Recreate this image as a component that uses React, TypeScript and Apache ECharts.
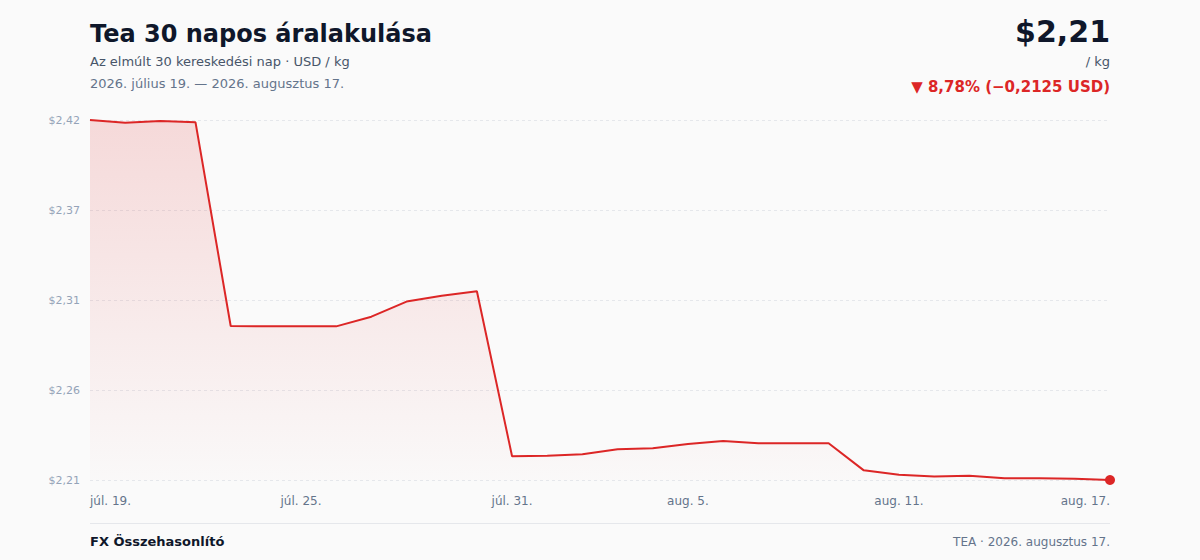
import React, { useEffect, useRef } from "react";
import * as echarts from "echarts";

const dates = [
  "júl. 19.", "júl. 20.", "júl. 21.", "júl. 22.", "júl. 23.", "júl. 24.", "júl. 25.", "júl. 26.", "júl. 27.", "júl. 28.",
  "júl. 29.", "júl. 30.", "júl. 31.", "aug. 1.", "aug. 2.", "aug. 3.", "aug. 4.", "aug. 5.", "aug. 6.", "aug. 7.",
  "aug. 8.", "aug. 9.", "aug. 10.", "aug. 11.", "aug. 12.", "aug. 13.", "aug. 14.", "aug. 15.", "aug. 16.", "aug. 17.",
];

const prices = [
  2.4203, 2.4187, 2.4197, 2.4189, 2.2987, 2.2985, 2.2985, 2.2985, 2.3042, 2.3131,
  2.3166, 2.3192, 2.2218, 2.2221, 2.2230, 2.2259, 2.2265, 2.2291, 2.2308, 2.2295,
  2.2295, 2.2295, 2.2135, 2.2109, 2.2098, 2.2103, 2.2088, 2.2088, 2.2086, 2.2078,
];

const shownLabelIndices = [0, 6, 12, 17, 23, 29];

const titleText = "Tea 30 napos áralakulása";
const subtitleText = "Az elmúlt 30 kereskedési nap · USD / kg";
const rangeText = "2026. július 19. — 2026. augusztus 17.";
const priceText = "$2,21";
const unitText = "/ kg";
const changeText = "▼ 8,78% (−0,2125 USD)";
const footerLeft = "FX Összehasonlító";
const footerRight = "TEA · 2026. augusztus 17.";

const FONT = "DejaVu Sans";

export default function App() {
  const ref = useRef<HTMLDivElement>(null);
  useEffect(() => {
    if (!ref.current) return;
    const chart = echarts.init(ref.current, undefined, { renderer: "svg" });
    const minV = Math.min(...prices);
    const maxV = Math.max(...prices);
    const interval = (maxV - minV) / 4;
    const lastIdx = prices.length - 1;
    chart.setOption({
      animation: false,
      backgroundColor: "#fafafa",
      grid: { left: 90, right: 90, top: 120, bottom: 80, containLabel: false },
      xAxis: {
        type: "category",
        data: dates,
        boundaryGap: false,
        axisLine: { show: false },
        axisTick: { show: false },
        splitLine: { show: false },
        axisLabel: {
          interval: (i: number) => shownLabelIndices.includes(i),
          color: "#64748b",
          fontFamily: FONT,
          fontSize: 12,
          margin: 15,
          alignMinLabel: "left",
          alignMaxLabel: "right",
        },
      },
      yAxis: {
        type: "value",
        min: minV,
        max: maxV,
        interval,
        axisLine: { show: false },
        axisTick: { show: false },
        splitLine: { show: true, lineStyle: { color: "#e5e7eb", type: [3, 3], width: 1 } },
        axisLabel: {
          color: "#94a3b8",
          fontFamily: FONT,
          fontSize: 11,
          margin: 10,
          formatter: (v: number) => "$" + v.toFixed(2).replace(".", ","),
        },
      },
      series: [
        {
          type: "line",
          data: prices,
          showSymbol: false,
          symbol: "none",
          lineStyle: { color: "#dc2626", width: 2 },
          itemStyle: { color: "#dc2626" },
          areaStyle: {
            color: new echarts.graphic.LinearGradient(0, 0, 0, 1, [
              { offset: 0, color: "rgba(220,38,38,0.22)" },
              { offset: 1, color: "rgba(220,38,38,0.01)" },
            ]),
          },
          z: 2,
        },
        {
          type: "scatter",
          data: [[dates[lastIdx], prices[lastIdx]]],
          symbol: "circle",
          symbolSize: 10,
          itemStyle: { color: "#dc2626", opacity: 1 },
          z: 3,
        },
      ],
      graphic: [
        {
          type: "text", left: 90, top: 22,
          style: { text: titleText, fontFamily: FONT, fontSize: 24, fontWeight: "bold", fill: "#0f172a" },
        },
        {
          type: "text", left: 90, top: 55,
          style: { text: subtitleText, fontFamily: FONT, fontSize: 13, fill: "#475569" },
        },
        {
          type: "text", left: 90, top: 77,
          style: { text: rangeText, fontFamily: FONT, fontSize: 13, fill: "#64748b" },
        },
        {
          type: "text", right: 90, top: 16,
          style: { text: priceText, fontFamily: FONT, fontSize: 30, fontWeight: "bold", fill: "#0f172a", align: "right" },
        },
        {
          type: "text", right: 90, top: 55,
          style: { text: unitText, fontFamily: FONT, fontSize: 13, fill: "#475569", align: "right" },
        },
        {
          type: "text", right: 90, top: 79,
          style: { text: changeText, fontFamily: FONT, fontSize: 15, fontWeight: "bold", fill: "#dc2626", align: "right" },
        },
        {
          type: "line",
          shape: { x1: 90, y1: 523.5, x2: 1110, y2: 523.5 },
          style: { stroke: "#e5e7eb", lineWidth: 1 },
        },
        {
          type: "text", left: 90, top: 535,
          style: { text: footerLeft, fontFamily: FONT, fontSize: 13, fontWeight: "bold", fill: "#0f172a" },
        },
        {
          type: "text", right: 90, top: 536,
          style: { text: footerRight, fontFamily: FONT, fontSize: 12, fill: "#64748b", align: "right" },
        },
      ],
    });
    return () => chart.dispose();
  }, []);
  return (
    <div
      ref={ref}
      style={{ position: "absolute", left: 0, top: 0, width: 1200, height: 560 }}
    />
  );
}
